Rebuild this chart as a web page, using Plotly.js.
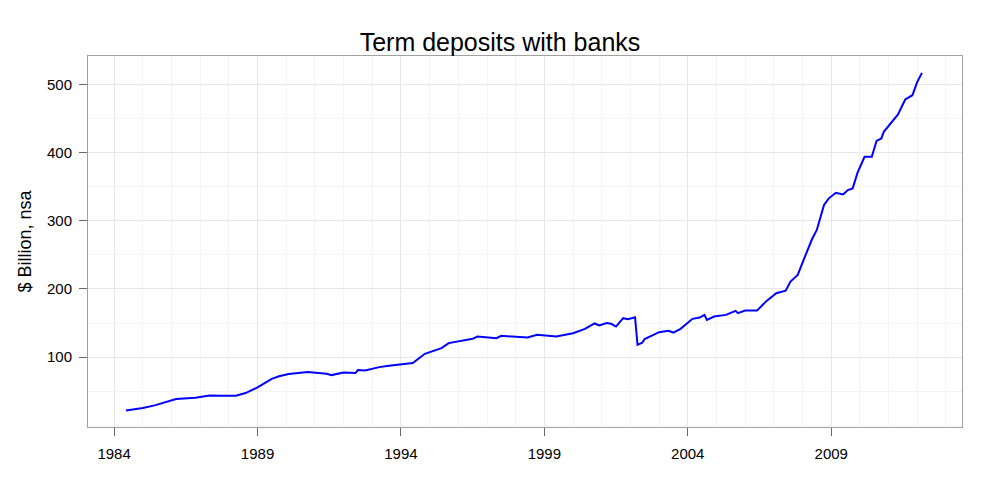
<!DOCTYPE html>
<html>
<head>
<meta charset="utf-8">
<script src="https://cdn.plot.ly/plotly-3.0.1.min.js"></script>
<style>html,body{margin:0;padding:0;background:#fff;}#chart{width:1000px;height:500px;}</style>
</head>
<body>
<div id="chart"></div>
<script>
const dates = [
 "1984-06","1984-10","1985-01","1985-06","1985-10","1986-03","1986-11","1987-05","1987-10","1988-04",
 "1988-08","1989-01","1989-04","1989-07","1989-10","1990-02","1990-10","1991-06","1991-08","1992-01",
 "1992-06","1992-07","1992-10","1993-04","1993-08","1994-01","1994-06","1994-11","1995-03","1995-06",
 "1995-09","1996-02","1996-07","1996-09","1997-01","1997-05","1997-07","1998-01","1998-06","1998-10",
 "1999-03","1999-06","2000-01","2000-06","2000-10","2000-12","2001-03","2001-05","2001-07","2001-10",
 "2001-12","2002-03","2002-04","2002-06","2002-07","2002-10","2003-01","2003-05","2003-07","2003-10",
 "2004-03","2004-06","2004-08","2004-09","2004-12","2005-05","2005-09","2005-10","2006-01","2006-06",
 "2006-10","2007-02","2007-06","2007-08","2007-11","2008-02","2008-05","2008-07","2008-08","2008-10",
 "2008-12","2009-03","2009-06","2009-08","2009-10","2009-12","2010-03","2010-06","2010-08","2010-10",
 "2010-11","2011-03","2011-05","2011-08","2011-11","2012-01","2012-03"
];
const deposits = [
 21.8,23.3,25.3,29.2,33.5,38.5,40.4,43.8,43.3,43.3,
 47.3,55.5,61.9,68.0,72.0,75.1,78.0,75.5,73.6,77.5,
 76.6,81.0,80.4,85.3,87.3,89.7,91.2,104.8,109.7,113.2,
 120.5,123.9,126.8,130.2,129.3,127.8,131.2,129.3,128.7,132.7,
 131.6,130.2,135.1,141.4,149.3,146.3,150.0,148.8,144.8,157.1,
 155.6,158.3,118.0,121.0,126.5,131.2,136.6,138.5,136.0,141.4,
 156.1,158.0,161.9,154.6,159.4,161.9,167.8,164.4,168.2,168.2,
 182.4,193.7,197.3,210.7,220.5,247.3,272.8,286.4,298.5,323.0,
 332.8,341.0,338.6,345.0,347.4,370.0,393.7,393.7,417.1,420.6,
 430.3,447.4,455.8,477.7,484.0,503.5,516.7
];
const yTickVals = [100,200,300,400,500];
const yTickText = ["100","200","300","400","500"];
const chartTitle = "Term deposits with banks";
const yTitle = "$ Billion, nsa";

const font = "Liberation Sans, Arial, Helvetica, sans-serif";
Plotly.newPlot("chart", [{
  x: dates, y: deposits, type: "scatter", mode: "lines",
  line: {color: "#0000ff", width: 2}, hoverinfo: "skip"
}], {
  width: 1000, height: 500,
  margin: {l: 88, r: 38, t: 56, b: 73},
  paper_bgcolor: "#fff", plot_bgcolor: "#fff",
  showlegend: false,
  font: {family: font, color: "#000", size: 15},
  title: {text: chartTitle, font: {size: 25, family: font, color: "#000"},
          xref: "container", x: 0.5, xanchor: "center", yref: "container", y: 0.916, yanchor: "middle"},
  xaxis: {
    type: "date", range: ["1983-02-03", "2013-07-24"],
    tick0: "1984-01-01", dtick: "M60", tickformat: "%Y",
    ticks: "outside", ticklen: 8, tickcolor: "#666", tickwidth: 1,
    showline: true, linecolor: "#a0a0a0", linewidth: 1, mirror: true,
    showgrid: true, gridcolor: "#e6e6e6", gridwidth: 1,
    minor: {dtick: "M12", tick0: "1984-01-01", showgrid: true, gridcolor: "#f4f4f4", gridwidth: 1, ticks: ""},
    zeroline: false, ticklabelstandoff: 5,
    tickfont: {size: 15, family: font, color: "#000"}
  },
  yaxis: {
    range: [-2.5, 541.5], tickvals: yTickVals, ticktext: yTickText,
    ticks: "outside", ticklen: 8, tickcolor: "#666", tickwidth: 1,
    showline: true, linecolor: "#a0a0a0", linewidth: 1, mirror: true,
    showgrid: true, gridcolor: "#e6e6e6", gridwidth: 1,
    minor: {dtick: 50, tick0: 0, showgrid: true, gridcolor: "#f4f4f4", gridwidth: 1, ticks: ""},
    zeroline: false, ticklabelstandoff: 4,
    title: {text: yTitle, font: {size: 18, family: font, color: "#000"}, standoff: 10},
    tickfont: {size: 15, family: font, color: "#000"}
  }
}, {staticPlot: true});
</script>
</body>
</html>
